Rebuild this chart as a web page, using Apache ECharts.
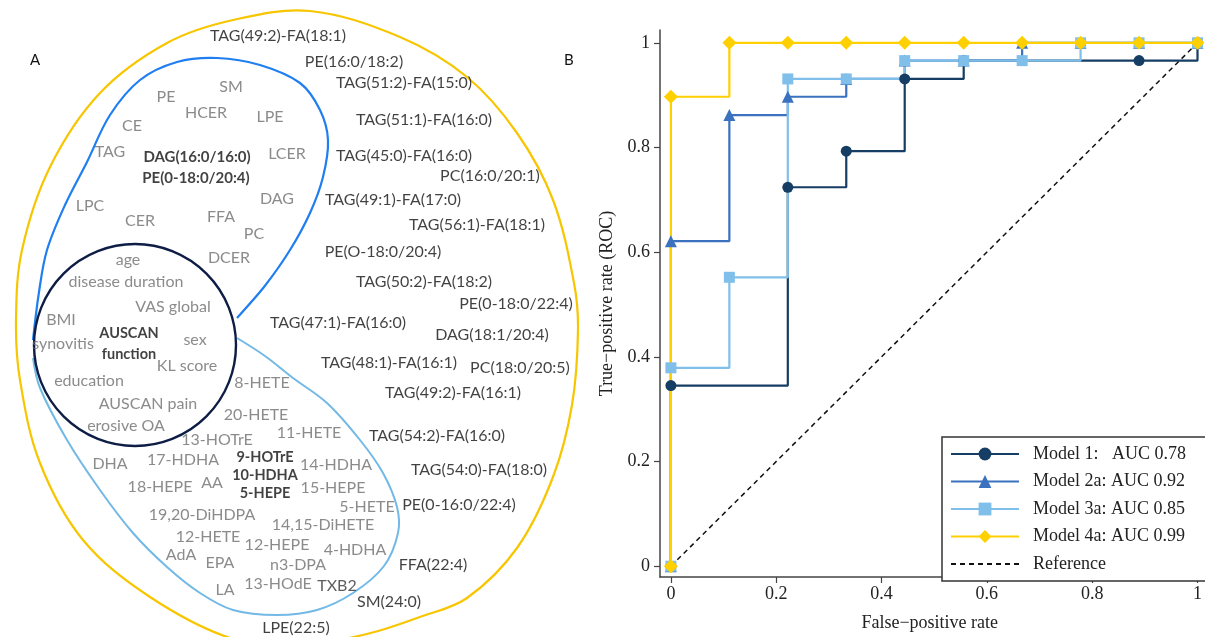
<!DOCTYPE html>
<html><head><meta charset="utf-8">
<script src="https://cdn.jsdelivr.net/npm/echarts@6/dist/echarts.min.js"></script>
<style>html,body{margin:0;padding:0;background:#fff}#c{width:1205px;height:637px}</style>
</head><body><div id="c"></div>
<script>
// ---------- Panel B data (ROC curves: [false-positive rate, true-positive rate]) ----------
const model1 = [[0,0],[0,0.345],[0.222,0.724],[0.333,0.793],[0.444,0.931],[0.556,0.966],[0.889,0.966],[1,1]];
const model2a = [[0,0],[0,0.621],[0.111,0.862],[0.222,0.897],[0.333,0.931],[0.444,0.966],[0.556,0.966],[0.667,1],[0.778,1],[0.889,1],[1,1]];
const model3a = [[0,0],[0,0.379],[0.111,0.552],[0.222,0.931],[0.333,0.931],[0.444,0.966],[0.556,0.966],[0.667,0.966],[0.778,1],[0.889,1],[1,1]];
const model4a = [[0,0],[0,0.897],[0.111,1],[0.222,1],[0.333,1],[0.444,1],[0.556,1],[0.667,1],[0.778,1],[0.889,1],[1,1]];
const referenceLine = [[0,0],[1,1]];
const seriesNames = ['Model 1:   AUC 0.78','Model 2a: AUC 0.92','Model 3a: AUC 0.85','Model 4a: AUC 0.99','Reference'];
const xTicks = [0,0.2,0.4,0.6,0.8,1];
const yTicks = [0,0.2,0.4,0.6,0.8,1];

// ---------- Panel A data (set membership) ----------
const clinicalVars = ['age','disease duration','VAS global','BMI','synovitis','sex','KL score','education','AUSCAN pain','erosive OA'];
const clinicalKey = ['AUSCAN\nfunction'];
const lipidClasses = ['SM','PE','HCER','LPE','CE','TAG','LCER','LPC','DAG','CER','FFA','PC','DCER'];
const lipidClassKey = ['DAG(16:0/16:0)','PE(0-18:0/20:4)'];
const oxylipins = ['8-HETE','20-HETE','11-HETE','13-HOTrE','DHA','17-HDHA','14-HDHA','18-HEPE','AA','15-HEPE','5-HETE','19,20-DiHDPA','14,15-DiHETE','12-HETE','12-HEPE','4-HDHA','AdA','EPA','n3-DPA','13-HOdE','LA'];
const oxylipinDark = ['TXB2'];
const oxylipinKey = ['9-HOTrE','10-HDHA','5-HEPE'];
const lipidSpecies = ['TAG(49:2)-FA(18:1)','PE(16:0/18:2)','TAG(51:2)-FA(15:0)','TAG(51:1)-FA(16:0)','TAG(45:0)-FA(16:0)','PC(16:0/20:1)','TAG(49:1)-FA(17:0)','TAG(56:1)-FA(18:1)','PE(O-18:0/20:4)','TAG(50:2)-FA(18:2)','PE(0-18:0/22:4)','TAG(47:1)-FA(16:0)','DAG(18:1/20:4)','TAG(48:1)-FA(16:1)','PC(18:0/20:5)','TAG(49:2)-FA(16:1)','TAG(54:2)-FA(16:0)','TAG(54:0)-FA(18:0)','PE(0-16:0/22:4)','FFA(22:4)','SM(24:0)','LPE(22:5)'];

// ---------- Panel A layout (label anchor positions, diagram pixels) ----------
const labelPos = {
 'age':[128,260],'disease duration':[126,282],'VAS global':[173,307],'BMI':[61,320],'synovitis':[63,344],
 'sex':[195,340],'KL score':[187,366],'education':[89,381],'AUSCAN pain':[148,404],'erosive OA':[126,426],
 'AUSCAN\nfunction':[129,344],
 'SM':[231,87],'PE':[166,97],'HCER':[206,113],'LPE':[270,117],'CE':[132,126],'TAG':[110,152],'LCER':[287,154],
 'LPC':[90,206],'DAG':[277,199],'CER':[140,221],'FFA':[221,217],'PC':[254,234],'DCER':[229,258],
 'DAG(16:0/16:0)':[197,157],'PE(0-18:0/20:4)':[196,178],
 '8-HETE':[262,383],'20-HETE':[256,415],'11-HETE':[309,433],'13-HOTrE':[217,440],'DHA':[110,464],'17-HDHA':[183,460],
 '14-HDHA':[336,465],'18-HEPE':[160,487],'AA':[212,483],'15-HEPE':[333,488],'5-HETE':[367,507],'19,20-DiHDPA':[202,515],
 '14,15-DiHETE':[323,525],'12-HETE':[208,537],'12-HEPE':[277,545],'4-HDHA':[355,550],'AdA':[181,555],'EPA':[220,563],
 'n3-DPA':[298,565],'13-HOdE':[278,584],'LA':[225,590],'TXB2':[337,586],
 '9-HOTrE':[265,457],'10-HDHA':[265,475],'5-HEPE':[265,493],
 'TAG(49:2)-FA(18:1)':[278,36],'PE(16:0/18:2)':[354,62],'TAG(51:2)-FA(15:0)':[404,83],'TAG(51:1)-FA(16:0)':[424,120],
 'TAG(45:0)-FA(16:0)':[404,156],'PC(16:0/20:1)':[490,176],'TAG(49:1)-FA(17:0)':[393,200],'TAG(56:1)-FA(18:1)':[477,225],
 'PE(O-18:0/20:4)':[383,252],'TAG(50:2)-FA(18:2)':[424,282],'PE(0-18:0/22:4)':[516,304],'TAG(47:1)-FA(16:0)':[338,323],
 'DAG(18:1/20:4)':[492,335],'TAG(48:1)-FA(16:1)':[389,363],'PC(18:0/20:5)':[520,368],'TAG(49:2)-FA(16:1)':[453,393],
 'TAG(54:2)-FA(16:0)':[437,436],'TAG(54:0)-FA(18:0)':[479,470],'PE(0-16:0/22:4)':[459,505],'FFA(22:4)':[433,565],
 'SM(24:0)':[389,602],'LPE(22:5)':[296,628]
};

const SANS = 'Lato';
const SERIF = 'Liberation Serif';
const GRAY = '#6e6e6e';

function labelSeries(names, color, weight, size) {
  return {
    type: 'scatter', xAxisIndex: 1, yAxisIndex: 1, silent: true, animation: false,
    symbolSize: 1, itemStyle: { color: 'rgba(0,0,0,0)' },
    data: names.map(n => ({ name: n, value: labelPos[n] })),
    label: { show: true, position: 'inside', formatter: p => p.name, color: color,
      fontFamily: SANS, fontSize: size, fontWeight: weight, lineHeight: 21 },
    emphasis: { disabled: true }, z: 5
  };
}

function rocSeries(name, data, color, symbol, size) {
  return {
    name: name, type: 'line', step: 'end', data: data, xAxisIndex: 0, yAxisIndex: 0,
    symbol: symbol, symbolSize: size, showAllSymbol: true,
    lineStyle: { color: color, width: 2.2 }, itemStyle: { color: color },
    emphasis: { disabled: true }, animation: false
  };
}

const yellowOutline = [[310,11],[400,37],[467,77],[517,133],[553,200],[574,283],[578,330],[572,405],[553,477],[517,548],[467,598],[420,617],[367,634],[300,645],[233,639],[150,597],[83,540],[40,463],[20,380],[16,320],[22,250],[50,167],[100,93],[167,43],[233,20]];
const blueOutline = [[33,340],[39,292],[47,250],[65,205],[87,162],[110,115],[140,80],[177,62],[217,58],[260,65],[300,83],[320,110],[328,140],[323,177],[310,213],[290,250],[264,287],[237,318]];
const lightBlueOutline = [[237,338],[265,356],[293,378],[327,403],[360,440],[383,473],[397,507],[398,533],[384,566],[353,593],[317,610],[277,615],[233,610],[200,593],[167,567],[133,533],[100,490],[67,440],[40,388],[33,358]];

const option = {
  backgroundColor: '#fff',
  animation: false,
  grid: [
    { left: 660, right: 0, top: 30, bottom: 52, containLabel: false },
    { left: 0, top: 0, width: 600, height: 637 }
  ],
  xAxis: [
    { type: 'value', gridIndex: 0, min: -0.0207, max: 1.0038,
      name: 'False\u2212positive rate', nameLocation: 'middle', nameGap: 37,
      nameTextStyle: { fontFamily: SERIF, fontSize: 18, color: '#222' },
      axisLine: { show: true, onZero: false, lineStyle: { color: '#444', width: 1.5 } },
      axisTick: { show: true, length: 6, customValues: xTicks, lineStyle: { color: '#444', width: 1.2 } },
      axisLabel: { customValues: xTicks, fontFamily: SERIF, fontSize: 18, color: '#222', margin: 8,
        formatter: v => String(+v.toFixed(1)) },
      splitLine: { show: false } },
    { type: 'value', gridIndex: 1, min: 0, max: 600, show: false }
  ],
  yAxis: [
    { type: 'value', gridIndex: 0, min: -0.0207, max: 1.0245,
      name: 'True\u2212positive rate (ROC)', nameLocation: 'middle', nameGap: 44,
      nameTextStyle: { fontFamily: SERIF, fontSize: 18, color: '#222' },
      axisLine: { show: true, onZero: false, lineStyle: { color: '#444', width: 1.5 } },
      axisTick: { show: true, length: 6, customValues: yTicks, lineStyle: { color: '#444', width: 1.2 } },
      axisLabel: { customValues: yTicks, fontFamily: SERIF, fontSize: 18, color: '#222', margin: 10,
        formatter: v => String(+v.toFixed(1)) },
      splitLine: { show: false } },
    { type: 'value', gridIndex: 1, min: 0, max: 637, inverse: true, show: false }
  ],
  legend: {
    data: [seriesNames[0], seriesNames[1], seriesNames[2], seriesNames[3],
      { name: seriesNames[4], itemStyle: { opacity: 0 } }],
    orient: 'vertical', left: 942, top: 437,
    itemWidth: 68, itemHeight: 16, itemGap: 9.5,
    padding: [8, 60, 8, 8],
    borderColor: '#333', borderWidth: 1.5, backgroundColor: '#fff',
    textStyle: { fontFamily: SERIF, fontSize: 18, color: '#222', padding: [0, 0, 0, 9] },
    selectedMode: false
  },
  graphic: [
    { type: 'polygon', shape: { points: yellowOutline, smooth: 0.35 }, style: { fill: 'none', stroke: '#f7c600', lineWidth: 2.2 }, silent: true },
    { type: 'polyline', shape: { points: blueOutline, smooth: 0.35 }, style: { fill: 'none', stroke: '#1f7ef0', lineWidth: 2.2 }, silent: true },
    { type: 'polyline', shape: { points: lightBlueOutline, smooth: 0.35 }, style: { fill: 'none', stroke: '#72b9e6', lineWidth: 2 }, silent: true },
    { type: 'circle', shape: { cx: 135, cy: 345, r: 101 }, style: { fill: 'none', stroke: '#0e1d45', lineWidth: 2.4 }, silent: true },
    { type: 'text', left: 30, top: 53, style: { text: 'A', font: '15px Lato', fill: '#111' } },
    { type: 'text', left: 564, top: 53, style: { text: 'B', font: '15px Lato', fill: '#111' } }
  ],
  series: [
    { name: 'Reference', type: 'line', data: referenceLine, symbol: 'none',
      lineStyle: { color: '#111', width: 1.5, type: [5, 4] }, itemStyle: { color: '#111' },
      emphasis: { disabled: true }, z: 1 },
    rocSeries(seriesNames[0], model1, '#163d63', 'circle', 11),
    rocSeries(seriesNames[1], model2a, '#3a72bf', 'triangle', 12),
    rocSeries(seriesNames[2], model3a, '#80bfe9', 'rect', 11),
    rocSeries(seriesNames[3], model4a, '#ffd000', 'diamond', 14),
    labelSeries(clinicalVars, GRAY, 'normal', 16),
    labelSeries(clinicalKey, '#111', 'bold', 14.5),
    labelSeries(lipidClasses, GRAY, 'normal', 16),
    labelSeries(lipidClassKey, '#111', 'bold', 15),
    labelSeries(oxylipins, GRAY, 'normal', 16),
    labelSeries(oxylipinDark, '#333', 'normal', 16),
    labelSeries(oxylipinKey, '#111', 'bold', 14.5),
    labelSeries(lipidSpecies, '#111', 'normal', 16)
  ]
};

const chart = echarts.init(document.getElementById('c'), null, { renderer: 'canvas' });
chart.setOption(option);
</script></body></html>
